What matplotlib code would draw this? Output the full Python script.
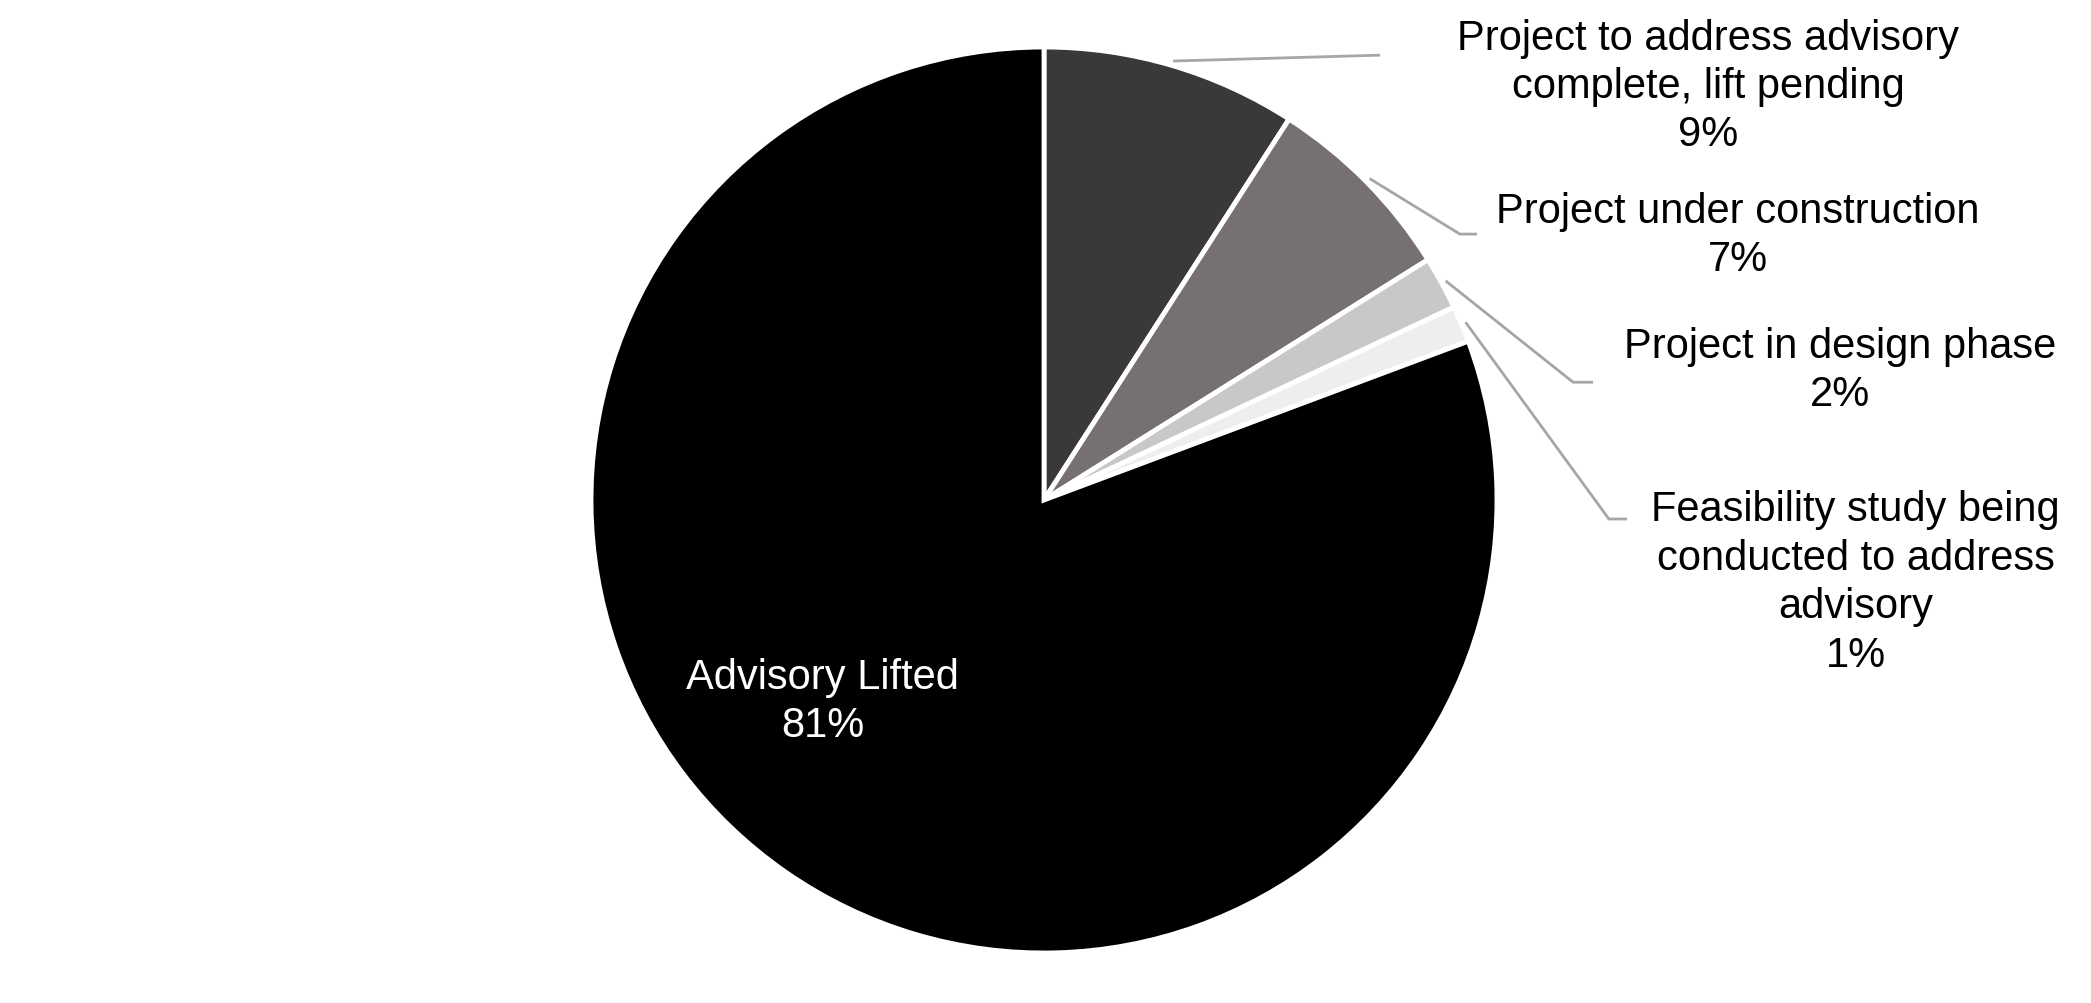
import numpy as np
import matplotlib
matplotlib.use('Agg')
import matplotlib.pyplot as plt

plt.rcParams['font.family'] = ['Liberation Sans', 'DejaVu Sans']

# slices, clockwise from 12 o'clock
labels = ['Project to address advisory\ncomplete, lift pending',
          'Project under construction',
          'Project in design phase',
          'Feasibility study being\nconducted to address\nadvisory',
          'Advisory Lifted']
shares = [9.1, 7.0, 1.9, 1.3, 80.7]
pct_text = ['9%', '7%', '2%', '1%', '81%']
colors = ['#3b3937', '#767170', '#c8c8c8', '#eeeeee', '#000000']

# label placement (data units, pie radius = 1)
text_pos = [(1.466, 0.914), (1.532, 0.585), (1.757, 0.287), (1.792, -0.181), (-0.488, -0.444)]
elbows = [None, (0.918, 0.587), (1.168, 0.260), (1.247, -0.042), None]
tails = [(0.742, 0.982), (0.956, 0.587), (1.212, 0.260), (1.287, -0.042), None]

W, H = 2091, 1004
cx, cy, R = 1044, 501, 453

fig = plt.figure(figsize=(W / 100, H / 100), dpi=100)
ax = fig.add_axes([0, 0, 1, 1])

wedges, _ = ax.pie(shares, colors=colors, startangle=90, counterclock=False,
                   radius=1, wedgeprops=dict(edgecolor='white', linewidth=3.5))

ax.set_aspect('auto')
ax.set_xlim(-cx / R, (W - cx) / R)
ax.set_ylim(-(H - cy) / R, cy / R)
ax.axis('off')

cum = np.cumsum([0] + shares)
for i, lab in enumerate(labels):
    mid = np.deg2rad((cum[i] + cum[i + 1]) / 2 / 100 * 360)
    tx, ty = text_pos[i]
    if i == len(labels) - 1:
        ax.text(tx, ty, lab + '\n' + pct_text[i], color='white', fontsize=30,
                ha='center', va='center', linespacing=1.27)
        continue
    p0 = (1.01 * np.sin(mid), 1.01 * np.cos(mid))
    pts = [p0]
    if elbows[i] is not None:
        pts.append(elbows[i])
    pts.append(tails[i])
    xs, ys = zip(*pts)
    ax.plot(xs, ys, color='#a6a6a6', lw=2, solid_capstyle='butt')
    ax.text(tx, ty, lab + '\n' + pct_text[i], color='black', fontsize=30,
            ha='center', va='center', linespacing=1.27)

fig.savefig('out.png', dpi=100, facecolor='white')
